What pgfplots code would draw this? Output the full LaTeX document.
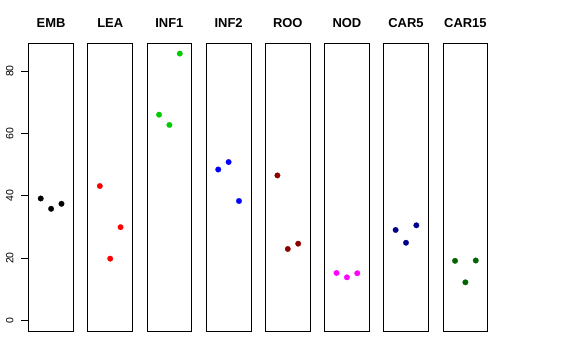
\documentclass[border=0pt]{standalone}
\usepackage{pgfplots}
\pgfplotsset{compat=1.18}
\usepackage{fontspec}
\setmainfont{Liberation Sans}
\definecolor{rgreen}{HTML}{00CD00}
\definecolor{rdarkred}{HTML}{8B0000}
\definecolor{rmagenta}{HTML}{FF00FF}
\definecolor{rdarkblue}{HTML}{00008B}
\definecolor{rdarkgreen}{HTML}{006400}
\pgfplotsset{
  panel/.style={
    scale only axis, width=44.8bp, height=288bp,
    anchor=south west,
    xmin=-0.16, xmax=4.16, ymin=-3.42, ymax=89.0,
    xtick=\empty, ytick=\empty,
    axis line style={line width=0.75bp},
    title style={at={(0.5,1)}, anchor=base, yshift=9.5bp, font=\fontsize{13}{15}\selectfont\bfseries, inner sep=0pt},
    clip=false,
  },
  dots/.style={only marks, mark=*, mark size=2.8bp, color=#1, mark options={draw=#1, fill=#1, line width=0.2bp}},
}
\begin{document}
\begin{tikzpicture}
\path[use as bounding box] (0,0) rectangle (576bp,360bp);
\begin{axis}[panel, at={(28.7bp,29bp)}, title={EMB},
  ytick={0,20,40,60,80}, tick align=outside, major tick length=8bp,
  ytick style={draw=none},
  yticklabel style={font=\fontsize{10.5}{12}\selectfont, xshift=-7bp, rotate=90, anchor=south, inner sep=0pt},
  /pgf/number format/assume math mode=true]
\addplot[dots=black] coordinates {(1,39.1) (2,35.8) (3,37.4)};
\draw[line width=0.8bp, black] (axis cs:-0.16,0) -- ([xshift=-8bp]axis cs:-0.16,0);
\draw[line width=0.8bp, black] (axis cs:-0.16,20) -- ([xshift=-8bp]axis cs:-0.16,20);
\draw[line width=0.8bp, black] (axis cs:-0.16,40) -- ([xshift=-8bp]axis cs:-0.16,40);
\draw[line width=0.8bp, black] (axis cs:-0.16,60) -- ([xshift=-8bp]axis cs:-0.16,60);
\draw[line width=0.8bp, black] (axis cs:-0.16,80) -- ([xshift=-8bp]axis cs:-0.16,80);
\end{axis}
\begin{axis}[panel, at={(87.8bp,29bp)}, title={LEA}]
\addplot[dots=red] coordinates {(1,43.1) (2,19.8) (3,29.9)};
\end{axis}
\begin{axis}[panel, at={(147.0bp,29bp)}, title={INF1}]
\addplot[dots=rgreen] coordinates {(1,66.0) (2,62.7) (3,85.6)};
\end{axis}
\begin{axis}[panel, at={(206.2bp,29bp)}, title={INF2}]
\addplot[dots=blue] coordinates {(1,48.4) (2,50.8) (3,38.3)};
\end{axis}
\begin{axis}[panel, at={(265.4bp,29bp)}, title={ROO}]
\addplot[dots=rdarkred] coordinates {(1,46.5) (2,22.9) (3,24.6)};
\end{axis}
\begin{axis}[panel, at={(324.5bp,29bp)}, title={NOD}]
\addplot[dots=rmagenta] coordinates {(1,15.2) (2,13.8) (3,15.1)};
\end{axis}
\begin{axis}[panel, at={(383.6bp,29bp)}, title={CAR5}]
\addplot[dots=rdarkblue] coordinates {(1,29.0) (2,24.9) (3,30.5)};
\end{axis}
\begin{axis}[panel, at={(443.0bp,29bp)}, title={CAR15}]
\addplot[dots=rdarkgreen] coordinates {(1,19.1) (2,12.2) (3,19.2)};
\end{axis}
\end{tikzpicture}
\end{document}
